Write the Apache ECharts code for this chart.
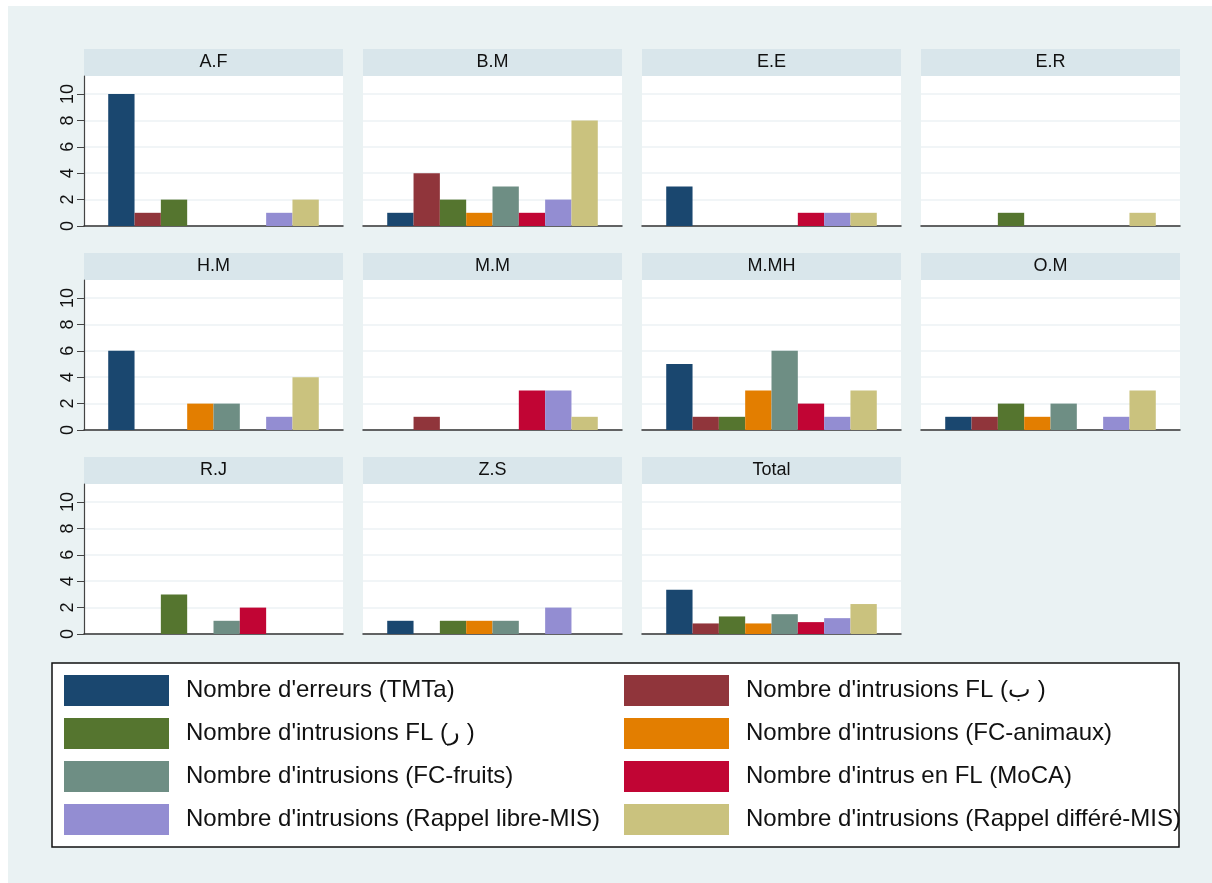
<!DOCTYPE html>
<html>
<head>
<meta charset="utf-8">
<script src="https://cdn.jsdelivr.net/npm/echarts@6/dist/echarts.min.js"></script>
<style>
  html, body { margin: 0; padding: 0; background: #fff; }
  #main { width: 1212px; height: 883px; }
</style>
</head>
<body>
<div id="main"></div>
<script>
  // panels (one per subject, plus the overall mean)
  var panels = ['A.F', 'B.M', 'E.E', 'E.R', 'H.M', 'M.M', 'M.MH', 'O.M', 'R.J', 'Z.S', 'Total']

  var seriesNames = [
    "Nombre d'erreurs (TMTa)",
    "Nombre d'intrusions FL (ب )",
    "Nombre d'intrusions FL (ر )",
    "Nombre d'intrusions (FC-animaux)",
    "Nombre d'intrusions (FC-fruits)",
    "Nombre d'intrus en FL (MoCA)",
    "Nombre d'intrusions (Rappel libre-MIS)",
    "Nombre d'intrusions (Rappel différé-MIS)"
  ]

  // values per panel, same order as panels
  var erreursTMTa   = [10, 1, 3, 0, 6, 0, 5, 1, 0, 1, 3.35]
  var intrusFLba    = [1, 4, 0, 0, 0, 1, 1, 1, 0, 0, 0.8]
  var intrusFLra    = [2, 2, 0, 1, 0, 0, 1, 2, 3, 1, 1.33]
  var fcAnimaux     = [0, 1, 0, 0, 2, 0, 3, 1, 0, 1, 0.8]
  var fcFruits      = [0, 3, 0, 0, 2, 0, 6, 2, 1, 1, 1.5]
  var flMoCA        = [0, 1, 1, 0, 0, 3, 2, 0, 2, 0, 0.9]
  var rappelLibre   = [1, 2, 1, 0, 1, 3, 1, 1, 0, 2, 1.2]
  var rappelDiffere = [2, 8, 1, 1, 4, 1, 3, 3, 0, 0, 2.27]

  var yTicks = [0, 2, 4, 6, 8, 10]

  var allValues = [erreursTMTa, intrusFLba, intrusFLra, fcAnimaux, fcFruits, flMoCA, rappelLibre, rappelDiffere]
  var colors = ['#1a476f', '#90353b', '#55752f', '#e37e00', '#6e8e84', '#c10534', '#938dd2', '#cac27e']

  var colLeft = [84, 363, 642, 921]
  var rowTop = [76, 280, 484]
  var panelW = 259
  var panelH = 150
  var headH = 27
  var font = 'Liberation Sans, Arial, Helvetica, sans-serif'

  var grids = [], xAxes = [], yAxes = [], series = []
  var graphics = [
    {type: 'rect', z: -10, shape: {x: 8, y: 6, width: 1204, height: 877}, style: {fill: '#eaf2f3'}},
    {type: 'rect', z: 0, shape: {x: 52, y: 663, width: 1127, height: 184},
      style: {fill: '#fff', stroke: '#111', lineWidth: 1.5}}
  ]

  panels.forEach(function (p, i) {
    var c = i % 4, r = Math.floor(i / 4)
    var firstCol = c === 0
    grids.push({
      left: colLeft[c], top: rowTop[r], width: panelW, height: panelH,
      show: true, backgroundColor: '#fff', borderWidth: 0
    })
    xAxes.push({
      type: 'category', gridIndex: i, data: [p],
      axisLabel: {show: false}, axisTick: {show: false},
      axisLine: {lineStyle: {color: '#333', width: 1.5}}
    })
    yAxes.push({
      type: 'value', gridIndex: i, min: 0, max: panelH / 13.2, interval: 2,
      axisLine: {show: firstCol, lineStyle: {color: '#444', width: 1.2}},
      axisTick: {show: firstCol, length: 7, customValues: yTicks, lineStyle: {color: '#444'}},
      axisLabel: {
        show: firstCol, customValues: yTicks, rotate: 90, margin: 7,
        fontFamily: font, fontSize: 18, color: '#111'
      },
      splitLine: {show: true, lineStyle: {color: '#edf2f4', width: 1.5}}
    })
    graphics.push({
      type: 'rect', shape: {x: colLeft[c], y: rowTop[r] - headH, width: panelW, height: headH},
      style: {fill: '#d9e6eb'}
    })
    graphics.push({
      type: 'text', x: colLeft[c] + panelW / 2, y: rowTop[r] - headH / 2,
      style: {text: p, fill: '#111', font: '18px ' + font, textAlign: 'center', textVerticalAlign: 'middle'}
    })
    allValues.forEach(function (vals, k) {
      series.push({
        type: 'bar', name: seriesNames[k], xAxisIndex: i, yAxisIndex: i,
        data: [vals[i]], barGap: '0%', barCategoryGap: '18.7%',
        itemStyle: {color: colors[k]}, animation: false
      })
    })
  })

  function legendCol(left, idx) {
    return {
      orient: 'vertical', left: left, top: 675, padding: 0,
      itemWidth: 105, itemHeight: 31, itemGap: 12,
      icon: 'rect', selectedMode: false, z: 5,
      data: idx.map(function (k) { return seriesNames[k] }),
      textStyle: {fontFamily: font, fontSize: 24, color: '#111', padding: [0, 0, 0, 12]}
    }
  }

  var myChart = echarts.init(document.getElementById('main'))
  myChart.setOption({
    backgroundColor: '#fff',
    color: colors,
    grid: grids,
    xAxis: xAxes,
    yAxis: yAxes,
    series: series,
    legend: [legendCol(64, [0, 2, 4, 6]), legendCol(624, [1, 3, 5, 7])],
    graphic: graphics
  })
</script>
</body>
</html>
